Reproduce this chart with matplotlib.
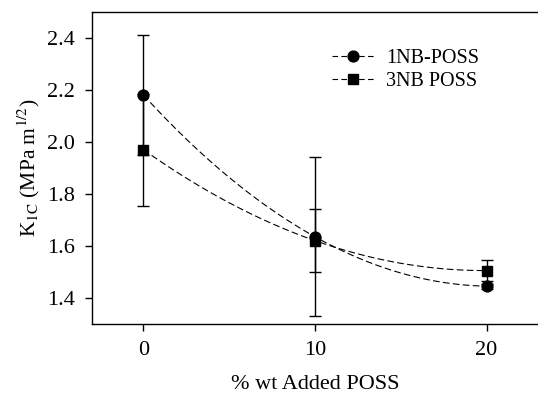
import numpy as np
from matplotlib import pyplot as plt

# data
x_pct = [0, 10, 20]
k1c_1nb = [2.18, 1.635, 1.445]
err_1nb = [0.23, 0.305, 0.01]
k1c_3nb = [1.97, 1.62, 1.505]
err_3nb = [0.215, 0.12, 0.04]
x_ticks = [0, 10, 20]
y_ticks = [1.4, 1.6, 1.8, 2.0, 2.2, 2.4]

plt.rcParams['font.family'] = ['Liberation Serif', 'DejaVu Serif']
plt.rcParams['mathtext.fontset'] = 'stix'

fig = plt.figure(figsize=(5.38, 3.94), dpi=100)
ax = fig.add_axes([0.171, 0.178, 0.829, 0.792])

def smooth(xs, ys):
    # spline-like curve through the three points (like the original plotting program)
    c = np.polyfit(xs, ys, 2)
    xx = np.linspace(xs[0], xs[-1], 100)
    return xx, np.polyval(c, xx)

for ys, errs, mk, ms, lab in [(k1c_1nb, err_1nb, 'o', 7.8, '1NB-POSS'),
                              (k1c_3nb, err_3nb, 's', 6.8, '3NB POSS')]:
    ax.errorbar(x_pct, ys, yerr=errs, fmt='none', ecolor='black', elinewidth=1, capsize=4.2, capthick=1, zorder=2)
    xx, yy = smooth(x_pct, ys)
    ax.plot(xx, yy, color='black', lw=0.8, dashes=(6, 3), zorder=3)
    ax.plot(x_pct, ys, linestyle='none', marker=mk, ms=ms, color='black', zorder=4)
    # legend proxy
    ax.plot([], [], color='black', lw=0.8, dashes=(5, 3), marker=mk, ms=ms, label=lab)

ax.set_xlim(-3, 23)
ax.set_ylim(1.3, 2.5)
ax.set_xticks(x_ticks)
ax.set_yticks(y_ticks)
ax.set_yticklabels([f'{v:.1f}' for v in y_ticks])
ax.tick_params(direction='out', length=5, width=1, labelsize=16, pad=7)
ax.spines['right'].set_visible(False)
for s in ['left', 'bottom', 'top']:
    ax.spines[s].set_linewidth(1)

ax.set_xlabel('% wt Added POSS', fontsize=16, labelpad=11)
ax.set_ylabel(r'K$_{\mathrm{1C}}$ (MPa m$^{\mathrm{1/2}}$)', fontsize=15.5, labelpad=4)

ax.legend(loc='upper left', bbox_to_anchor=(0.497, 0.94), frameon=False, fontsize=14.5,
          handlelength=2.1, handletextpad=0.6, labelspacing=0.2, borderpad=0.4)

fig.savefig('out.png', dpi=100)
